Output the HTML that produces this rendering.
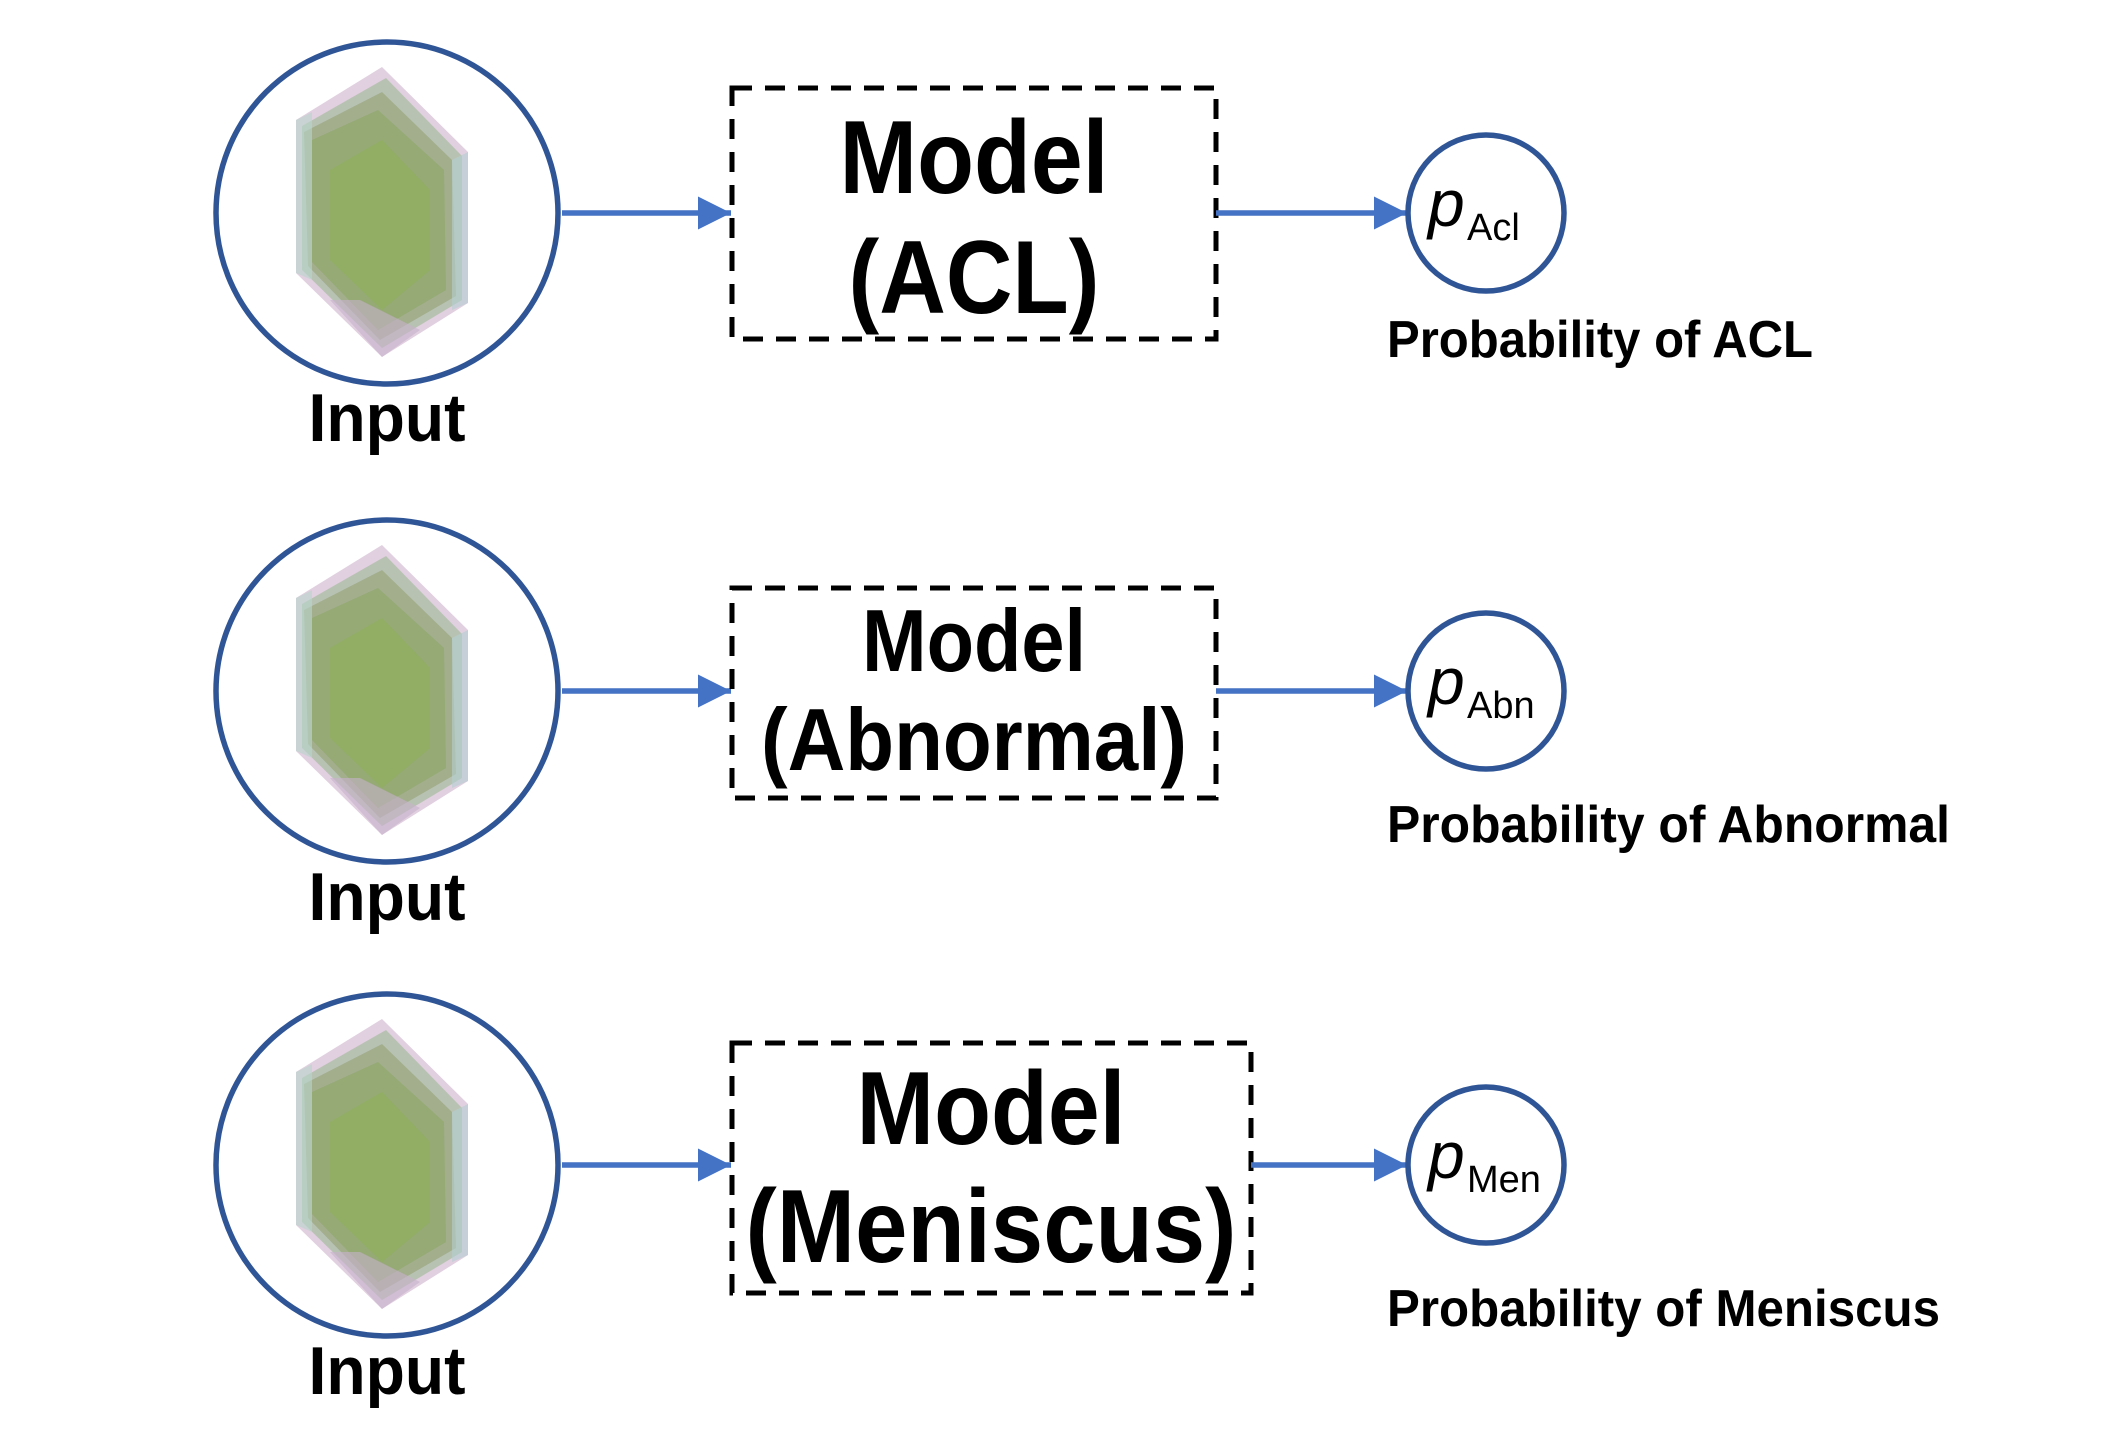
<!DOCTYPE html>
<html><head><meta charset="utf-8"><style>html,body{margin:0;padding:0;background:#fff}svg{display:block}</style></head>
<body>
<svg width="2116" height="1442" viewBox="0 0 2116 1442" xmlns="http://www.w3.org/2000/svg" font-family="'Liberation Sans Narrow','Liberation Sans',sans-serif" font-weight="bold">
<defs>
<g id="cube">
  <polygon points="382,67 468,152 468,303 382,357 296,273 296,120" fill="#c9a9c6" opacity="0.55"/>
  <polygon points="386,78 462,156 462,300 382,348 302,270 302,126" fill="#a7bca0" opacity="0.7"/>
  <polygon points="382,92 452,160 456,296 380,340 308,266 304,132" fill="#9aa57e" opacity="0.7"/>
  <polygon points="378,110 444,170 446,290 378,330 312,262 312,140" fill="#8fa86a" opacity="0.7"/>
  <polygon points="382,140 430,190 430,270 382,310 330,260 330,170" fill="#8fb05a" opacity="0.6"/>
  <polygon points="296,120 312,112 312,280 296,273" fill="#b9d6cc" opacity="0.6"/>
  <polygon points="452,160 468,152 468,303 452,310" fill="#b4cfd0" opacity="0.6"/>
  <polygon points="330,300 382,357 420,330 360,300" fill="#c7b0cc" opacity="0.6"/>
</g>
<marker id="ah" viewBox="0 0 10 10" refX="10" refY="5" markerWidth="6" markerHeight="6.5" markerUnits="strokeWidth" orient="auto"><path d="M0,0 L10,5 L0,10 z" fill="#4472C4"/></marker>
</defs>

<!-- Row 1 -->
<circle cx="387" cy="213" r="171" fill="none" stroke="#2F5597" stroke-width="5.5"/>
<use href="#cube"/>
<text x="387" y="441" font-size="68" text-anchor="middle" textLength="157" lengthAdjust="spacingAndGlyphs">Input</text>
<line x1="562" y1="213" x2="731" y2="213" stroke="#4472C4" stroke-width="5.5" marker-end="url(#ah)"/>
<rect x="732" y="88" width="484" height="251" fill="none" stroke="#000" stroke-width="5" stroke-dasharray="20,13"/>
<text x="974" y="193" font-size="104" text-anchor="middle" textLength="269" lengthAdjust="spacingAndGlyphs">Model</text>
<text x="974" y="313" font-size="104" text-anchor="middle" textLength="251" lengthAdjust="spacingAndGlyphs">(ACL)</text>
<line x1="1216" y1="213" x2="1407" y2="213" stroke="#4472C4" stroke-width="5.5" marker-end="url(#ah)"/>
<circle cx="1486" cy="213" r="78" fill="none" stroke="#2F5597" stroke-width="5.5"/>
<text x="1428" y="226" font-size="66" font-style="italic" font-weight="normal" font-family="'Liberation Sans',sans-serif">p</text>
<text x="1467" y="240" font-size="38" font-weight="normal" font-family="'Liberation Sans',sans-serif">Acl</text>
<text x="1387" y="357" font-size="52" textLength="426" lengthAdjust="spacingAndGlyphs">Probability of ACL</text>

<!-- Row 2 -->
<circle cx="387" cy="691" r="171" fill="none" stroke="#2F5597" stroke-width="5.5"/>
<use href="#cube" transform="translate(0,478)"/>
<text x="387" y="920" font-size="68" text-anchor="middle" textLength="157" lengthAdjust="spacingAndGlyphs">Input</text>
<line x1="562" y1="691" x2="731" y2="691" stroke="#4472C4" stroke-width="5.5" marker-end="url(#ah)"/>
<rect x="732" y="588" width="484" height="210" fill="none" stroke="#000" stroke-width="5" stroke-dasharray="20,13"/>
<text x="974" y="671" font-size="88" text-anchor="middle" textLength="224" lengthAdjust="spacingAndGlyphs">Model</text>
<text x="974" y="770" font-size="88" text-anchor="middle" textLength="426" lengthAdjust="spacingAndGlyphs">(Abnormal)</text>
<line x1="1216" y1="691" x2="1407" y2="691" stroke="#4472C4" stroke-width="5.5" marker-end="url(#ah)"/>
<circle cx="1486" cy="691" r="78" fill="none" stroke="#2F5597" stroke-width="5.5"/>
<text x="1428" y="704" font-size="66" font-style="italic" font-weight="normal" font-family="'Liberation Sans',sans-serif">p</text>
<text x="1467" y="718" font-size="38" font-weight="normal" font-family="'Liberation Sans',sans-serif">Abn</text>
<text x="1387" y="842" font-size="52" textLength="563" lengthAdjust="spacingAndGlyphs">Probability of Abnormal</text>

<!-- Row 3 -->
<circle cx="387" cy="1165" r="171" fill="none" stroke="#2F5597" stroke-width="5.5"/>
<use href="#cube" transform="translate(0,952)"/>
<text x="387" y="1394" font-size="68" text-anchor="middle" textLength="157" lengthAdjust="spacingAndGlyphs">Input</text>
<line x1="562" y1="1165" x2="731" y2="1165" stroke="#4472C4" stroke-width="5.5" marker-end="url(#ah)"/>
<rect x="732" y="1043" width="519" height="250" fill="none" stroke="#000" stroke-width="5" stroke-dasharray="20,13"/>
<text x="991" y="1144" font-size="104" text-anchor="middle" textLength="269" lengthAdjust="spacingAndGlyphs">Model</text>
<text x="991" y="1262" font-size="104" text-anchor="middle" textLength="491" lengthAdjust="spacingAndGlyphs">(Meniscus)</text>
<line x1="1251" y1="1165" x2="1407" y2="1165" stroke="#4472C4" stroke-width="5.5" marker-end="url(#ah)"/>
<circle cx="1486" cy="1165" r="78" fill="none" stroke="#2F5597" stroke-width="5.5"/>
<text x="1428" y="1178" font-size="66" font-style="italic" font-weight="normal" font-family="'Liberation Sans',sans-serif">p</text>
<text x="1467" y="1192" font-size="38" font-weight="normal" font-family="'Liberation Sans',sans-serif">Men</text>
<text x="1387" y="1326" font-size="52" textLength="553" lengthAdjust="spacingAndGlyphs">Probability of Meniscus</text>
</svg>
</body></html>
